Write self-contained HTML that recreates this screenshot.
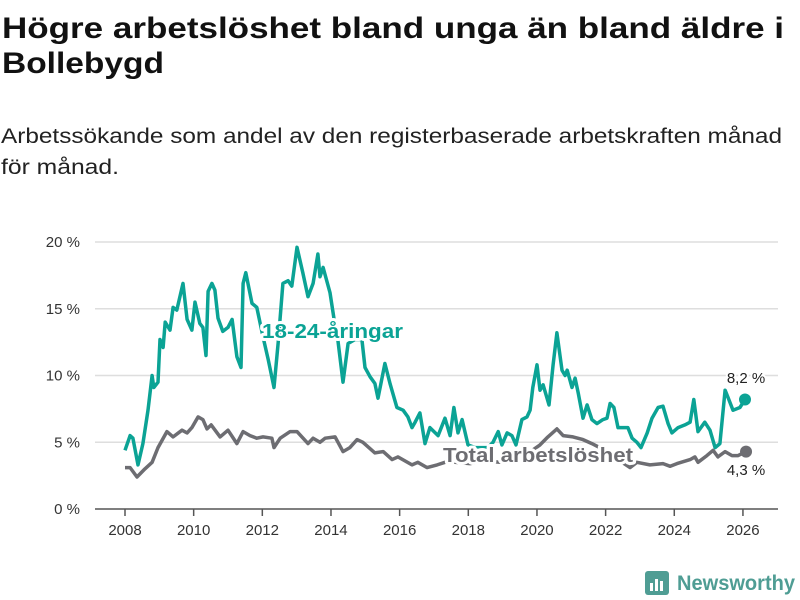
<!DOCTYPE html>
<html><head><meta charset="utf-8"><style>
body{margin:0;background:#fff;}
svg{display:block;font-family:"Liberation Sans",sans-serif;}
</style></head><body>
<svg id="chart" width="800" height="600" viewBox="0 0 800 600">
<text x="2" y="38" font-size="30" font-weight="bold" fill="#111" textLength="782" lengthAdjust="spacingAndGlyphs">Högre arbetslöshet bland unga än bland äldre i</text>
<text x="2" y="73" font-size="30" font-weight="bold" fill="#111" textLength="162" lengthAdjust="spacingAndGlyphs">Bollebygd</text>
<text x="1" y="143" font-size="21" fill="#222" textLength="781" lengthAdjust="spacingAndGlyphs">Arbetssökande som andel av den registerbaserade arbetskraften månad</text>
<text x="1" y="174" font-size="21" fill="#222" textLength="118" lengthAdjust="spacingAndGlyphs">för månad.</text>
<g id="grid"></g><g id="xaxis"></g><g id="series"></g><g id="labels"></g>
<g>
<rect x="645" y="571" width="24" height="24" rx="3" fill="#4f9d94"/>
<rect x="650" y="583" width="3" height="8" fill="#fff"/><rect x="655" y="579" width="3" height="12" fill="#fff"/><rect x="660" y="581" width="3" height="10" fill="#fff"/>
<text x="677" y="590" font-size="21" font-weight="bold" fill="#4f9d94" textLength="118" lengthAdjust="spacingAndGlyphs">Newsworthy</text>
</g>
</svg>
<script>
const yTicks=[0,5,10,15,20];
const xTicks=[2008,2010,2012,2014,2016,2018,2020,2022,2024,2026];
const youthYears=[2008.00,2008.15,2008.23,2008.38,2008.52,2008.67,2008.79,2008.84,2008.96,2009.02,2009.11,2009.17,2009.31,2009.40,2009.51,2009.69,2009.81,2009.95,2010.04,2010.18,2010.27,2010.36,2010.42,2010.53,2010.62,2010.71,2010.85,2011.00,2011.12,2011.26,2011.38,2011.44,2011.52,2011.70,2011.84,2012.02,2012.17,2012.34,2012.46,2012.60,2012.75,2012.86,2013.01,2013.18,2013.33,2013.48,2013.62,2013.68,2013.77,2013.97,2014.09,2014.20,2014.35,2014.50,2014.70,2014.90,2014.99,2015.14,2015.28,2015.37,2015.57,2015.72,2015.92,2016.10,2016.24,2016.36,2016.45,2016.59,2016.74,2016.88,2017.12,2017.32,2017.47,2017.58,2017.70,2017.82,2017.99,2018.20,2018.40,2018.57,2018.72,2018.87,2018.98,2019.13,2019.27,2019.39,2019.56,2019.71,2019.80,2019.88,2020.00,2020.09,2020.18,2020.35,2020.47,2020.58,2020.73,2020.82,2020.88,2021.02,2021.11,2021.20,2021.34,2021.46,2021.60,2021.75,2021.92,2022.04,2022.13,2022.24,2022.36,2022.51,2022.65,2022.77,2022.91,2023.03,2023.21,2023.35,2023.53,2023.67,2023.82,2023.93,2024.11,2024.31,2024.46,2024.57,2024.69,2024.89,2025.04,2025.19,2025.33,2025.48,2025.56,2025.71,2025.91,2026.06];
const youthValues=[4.4,5.5,5.3,3.3,4.9,7.4,10.0,9.1,9.5,12.7,12.1,14.0,13.4,15.1,14.9,16.9,14.2,13.4,15.5,13.9,13.6,11.5,16.3,16.9,16.4,14.3,13.3,13.6,14.2,11.4,10.6,16.9,17.7,15.4,15.1,12.9,11.2,9.1,12.4,16.9,17.1,16.7,19.6,17.7,15.9,16.9,19.1,17.4,18.1,16.2,14.2,12.7,9.5,12.4,12.7,12.7,10.6,9.9,9.4,8.3,10.9,9.4,7.6,7.4,6.9,6.1,6.5,7.2,4.9,6.1,5.5,6.8,5.5,7.6,5.7,6.7,4.8,4.6,4.6,4.6,5.0,5.8,4.8,5.7,5.5,4.8,6.7,6.9,7.4,9.1,10.8,8.9,9.3,7.8,10.8,13.2,10.4,10.0,10.4,9.1,9.8,8.7,6.8,7.8,6.7,6.4,6.7,6.8,7.9,7.6,6.1,6.1,6.1,5.3,5.0,4.6,5.7,6.8,7.6,7.7,6.4,5.7,6.1,6.3,6.5,8.2,5.8,6.5,5.9,4.6,4.9,8.9,8.4,7.4,7.6,8.2];
const totalYears=[2008.00,2008.15,2008.35,2008.58,2008.79,2008.96,2009.22,2009.40,2009.66,2009.81,2009.95,2010.13,2010.27,2010.39,2010.51,2010.77,2011.00,2011.26,2011.44,2011.64,2011.84,2012.02,2012.28,2012.34,2012.52,2012.81,2013.01,2013.33,2013.48,2013.68,2013.83,2014.12,2014.35,2014.55,2014.76,2014.93,2015.28,2015.52,2015.78,2015.95,2016.36,2016.53,2016.80,2017.09,2017.32,2017.61,2018.05,2018.49,2018.92,2019.36,2019.65,2020.09,2020.32,2020.58,2020.76,2021.05,2021.34,2021.60,2021.98,2022.36,2022.71,2022.91,2023.29,2023.67,2023.88,2024.08,2024.46,2024.60,2024.69,2024.95,2025.13,2025.27,2025.48,2025.68,2025.86,2026.09];
const totalValues=[3.1,3.1,2.4,3.0,3.5,4.6,5.8,5.4,5.9,5.7,6.1,6.9,6.7,6.0,6.3,5.4,5.9,4.9,5.8,5.5,5.3,5.4,5.3,4.6,5.3,5.8,5.8,4.9,5.3,5.0,5.3,5.4,4.3,4.6,5.2,5.0,4.2,4.3,3.7,3.9,3.3,3.5,3.1,3.3,3.5,3.5,3.4,3.6,3.5,3.7,4.0,4.8,5.4,6.0,5.5,5.4,5.2,4.9,4.4,3.7,3.1,3.5,3.3,3.4,3.2,3.4,3.7,3.9,3.5,4.0,4.4,3.9,4.3,4.0,4.0,4.3];

const NS='http://www.w3.org/2000/svg';
const X=y=>125+(y-2008)*34.33;
const Y=v=>509-v*13.35;
function mk(tag,attrs,parent){const e=document.createElementNS(NS,tag);for(const k in attrs)e.setAttribute(k,attrs[k]);parent.appendChild(e);return e;}
const grid=document.getElementById('grid');
yTicks.forEach(t=>{
  if(t>0){const l=mk('line',{x1:95,x2:778,y1:Y(t),y2:Y(t),stroke:'#dedede','stroke-width':1.5},grid);
  
  }
  const tx=mk('text',{x:80,y:Y(t)+5,'text-anchor':'end','font-size':15,fill:'#333'},grid);
  tx.textContent=t+' %';
  
  
});
const xa=document.getElementById('xaxis');
const axl=mk('line',{x1:95,x2:778,y1:509,y2:509,stroke:'#555','stroke-width':1.5},xa);


xTicks.forEach(t=>{
  mk('line',{x1:X(t),x2:X(t),y1:509,y2:516,stroke:'#555','stroke-width':1.5},xa);
  const tx=mk('text',{x:X(t),y:535,'text-anchor':'middle','font-size':15,fill:'#333'},xa);
  tx.textContent=t;
  
  
});
const sg=document.getElementById('series');
function line(xs,vs,color,name){
  const d=xs.map((x,i)=>(i?'L':'M')+X(x).toFixed(1)+','+Y(vs[i]).toFixed(1)).join('');
  const p=mk('path',{d:d,fill:'none',stroke:color,'stroke-width':3.5,'stroke-linejoin':'round'},sg);
  
  
  const c=mk('circle',{cx:X(xs[xs.length-1]),cy:Y(vs[vs.length-1]),r:6,fill:color},sg);
  
  
}
line(totalYears,totalValues,'#6d6d72','total-line');
line(youthYears,youthValues,'#0ba395','youth-line');
const lg=document.getElementById('labels');
function lab(x,y,txt,color,size,bold,name,anchor,len){
  const a={x:x,y:y,'font-size':size,fill:color,stroke:'#fff','stroke-width':bold?6:4,'paint-order':'stroke','stroke-linejoin':'round','text-anchor':anchor||'start'};
  if(bold)a['font-weight']='bold';
  if(len){a.textLength=len;a.lengthAdjust='spacingAndGlyphs';}
  const t=mk('text',a,lg);t.textContent=txt;
  
  
}
lab(262,338,'18-24-åringar','#0ba395',20,true,'youth-series-label','start',141);
lab(443,462,'Total arbetslöshet','#6d6d72',20,true,'total-series-label','start',190);
lab(746,383,'8,2 %','#222',15,false,'youth-last-value','middle');
lab(746,475,'4,3 %','#222',15,false,'total-last-value','middle');
</script>
</body></html>
